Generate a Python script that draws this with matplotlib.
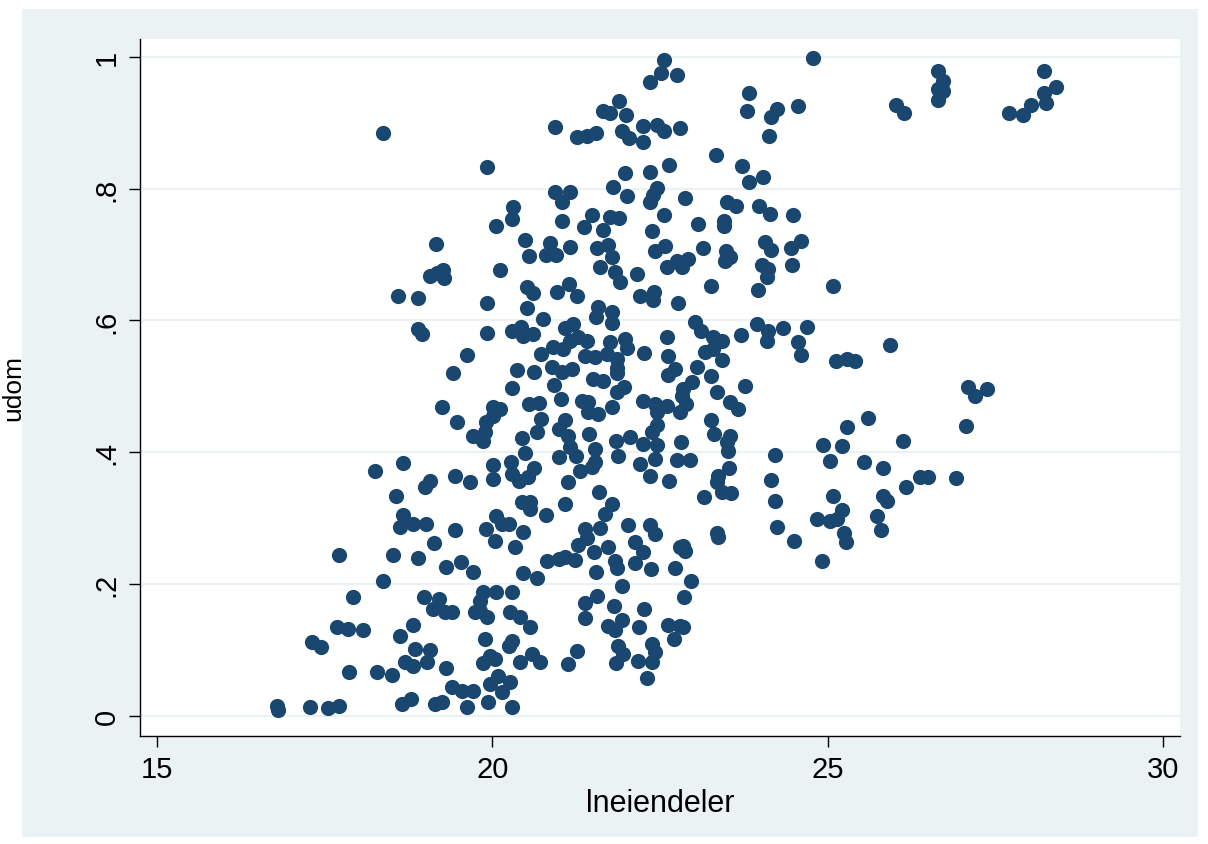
import numpy as np
import matplotlib.pyplot as plt
from matplotlib.patches import Rectangle

plt.rcParams['font.family'] = ['Liberation Sans', 'DejaVu Sans']

# scatter data: lneiendeler (x) and udom (y), same order in both lists
lneiendeler = [
    18.37, 19.16, 19.07, 19.18, 19.27, 19.28, 22.56, 22.51, 22.75, 22.35,
    21.89, 21.65, 21.75, 21.99, 20.94, 21.26, 21.41, 21.54, 21.93, 22.03,
    22.24, 22.24, 22.45, 22.56, 22.79, 19.92, 21.97, 22.35, 22.63, 21.80,
    22.00, 22.45, 22.39, 22.35, 22.87, 20.94, 21.15, 21.04, 20.31, 20.29,
    20.06, 21.04, 21.48, 21.36, 21.75, 21.89, 21.65, 22.56, 22.38, 20.49,
    20.55, 20.86, 20.80, 20.95, 21.15, 21.56, 21.72, 21.78, 21.60, 22.42,
    22.57, 22.60, 22.75, 20.12, 22.15, 21.83, 24.78, 23.82, 23.79, 24.24,
    24.15, 24.55, 24.12, 23.33, 23.72, 24.03, 23.82, 23.50, 23.63, 23.97,
    24.14, 24.48, 23.06, 23.45, 23.45, 24.06, 24.15, 24.45, 24.60, 23.14,
    23.48, 23.54, 23.46, 22.91, 22.82, 24.02, 24.11, 24.46, 26.02, 26.13,
    26.64, 26.71, 26.64, 26.71, 26.65, 27.70, 27.91, 28.03, 28.23, 28.23,
    28.25, 28.40, 18.59, 18.89, 18.89, 18.95, 19.62, 19.41, 19.25, 19.47,
    19.71, 18.25, 18.67, 18.56, 18.99, 19.07, 19.44, 19.66, 18.67, 18.62,
    18.82, 19.01, 19.44, 19.13, 17.71, 18.52, 18.89, 19.31, 19.53, 19.71,
    18.37, 17.92, 18.98, 19.20, 19.11, 19.29, 19.40, 19.74, 17.68, 17.85,
    18.07, 18.82, 18.62, 17.31, 17.44, 18.85, 19.07, 18.70, 18.82, 19.02,
    19.31, 17.86, 18.28, 18.50, 19.40, 19.55, 19.71, 16.79, 16.81, 17.28,
    17.55, 17.71, 18.65, 18.79, 19.14, 19.25, 19.62, 21.90, 20.51, 20.60,
    20.96, 21.14, 21.26, 22.20, 22.41, 22.39, 19.92, 20.51, 21.57, 21.78,
    21.54, 21.78, 22.76, 20.75, 20.29, 20.42, 20.45, 20.60, 19.92, 21.08,
    21.20, 21.27, 21.41, 21.15, 21.75, 21.97, 22.00, 22.60, 22.26, 20.72,
    20.90, 21.05, 21.38, 21.53, 21.71, 21.86, 20.89, 21.04, 21.19, 20.36,
    20.62, 21.50, 21.65, 21.86, 21.86, 22.62, 22.62, 22.72, 20.92, 20.29,
    21.86, 21.96, 22.84, 21.02, 20.54, 20.69, 21.33, 21.42, 21.78, 22.24,
    22.42, 22.60, 20.01, 20.12, 20.01, 21.42, 21.57, 22.80, 20.72, 22.45,
    21.08, 19.91, 20.99, 22.45, 19.89, 19.86, 20.66, 20.44, 21.12, 21.44,
    21.84, 22.05, 22.38, 22.24, 22.45, 22.81, 21.15, 21.53, 20.48, 21.00,
    21.24, 21.87, 22.42, 22.75, 20.01, 20.28, 20.62, 20.01, 20.29, 20.39,
    20.53, 21.30, 21.48, 21.53, 22.20, 22.35, 22.63, 21.12, 21.59, 20.44,
    20.56, 21.08, 21.78, 20.56, 20.80, 21.68, 20.05, 20.14, 20.25, 19.90,
    20.04, 20.45, 20.33, 21.38, 21.41, 21.27, 21.60, 22.02, 22.35, 22.42,
    22.12, 22.24, 22.12, 22.36, 22.79, 22.72, 21.72, 21.51, 21.83, 21.86,
    21.54, 20.81, 20.99, 21.08, 21.23, 20.45, 20.66, 21.93, 21.56, 21.38,
    21.38, 21.81, 22.26, 21.93, 21.72, 21.83, 22.18, 22.62, 22.79, 22.70,
    19.86, 20.05, 20.29, 19.81, 19.81, 19.92, 20.26, 20.41, 20.56, 19.89,
    20.29, 20.25, 19.96, 19.86, 20.04, 20.41, 20.59, 20.71, 21.26, 21.12,
    21.87, 21.95, 21.84, 22.17, 22.38, 22.42, 22.38, 22.30, 20.08, 20.26,
    19.96, 20.14, 19.93, 20.29, 23.26, 23.96, 24.09, 25.07, 23.02, 23.11,
    23.29, 23.42, 23.17, 23.29, 23.42, 23.70, 23.94, 24.11, 24.09, 24.33,
    24.69, 24.55, 24.60, 25.12, 25.28, 25.40, 25.92, 23.05, 23.26, 22.97,
    22.82, 22.89, 23.76, 23.35, 23.54, 23.66, 23.26, 23.30, 23.54, 23.49,
    23.51, 22.94, 24.22, 23.52, 23.36, 23.35, 23.42, 23.55, 24.15, 23.15,
    24.21, 25.60, 25.28, 24.93, 25.21, 25.04, 25.54, 25.83, 25.07, 25.83,
    25.88, 27.09, 27.37, 27.19, 27.06, 26.12, 26.37, 26.49, 26.91, 26.16,
    24.84, 25.03, 25.13, 25.21, 24.24, 24.49, 24.91, 25.24, 25.27, 25.73,
    25.80, 23.35, 23.36, 22.84, 22.87, 22.96, 22.85, 22.84,
]
udom = [
    0.885, 0.716, 0.667, 0.672, 0.676, 0.664, 0.995, 0.976, 0.973, 0.962,
    0.933, 0.918, 0.915, 0.912, 0.894, 0.879, 0.880, 0.885, 0.888, 0.877,
    0.895, 0.871, 0.897, 0.888, 0.892, 0.833, 0.824, 0.825, 0.836, 0.803,
    0.789, 0.801, 0.791, 0.780, 0.786, 0.795, 0.795, 0.780, 0.772, 0.754,
    0.744, 0.751, 0.760, 0.742, 0.757, 0.756, 0.737, 0.760, 0.736, 0.722,
    0.698, 0.718, 0.700, 0.700, 0.712, 0.710, 0.715, 0.697, 0.681, 0.706,
    0.713, 0.681, 0.690, 0.677, 0.671, 0.674, 0.998, 0.945, 0.918, 0.921,
    0.909, 0.926, 0.880, 0.851, 0.835, 0.818, 0.810, 0.780, 0.774, 0.774,
    0.762, 0.760, 0.747, 0.751, 0.743, 0.719, 0.707, 0.710, 0.721, 0.710,
    0.706, 0.697, 0.690, 0.693, 0.681, 0.684, 0.678, 0.684, 0.927, 0.915,
    0.979, 0.963, 0.951, 0.948, 0.935, 0.914, 0.912, 0.927, 0.979, 0.945,
    0.930, 0.954, 0.637, 0.634, 0.587, 0.580, 0.548, 0.521, 0.469, 0.446,
    0.425, 0.372, 0.384, 0.334, 0.347, 0.357, 0.364, 0.355, 0.305, 0.287,
    0.291, 0.291, 0.282, 0.263, 0.244, 0.244, 0.240, 0.226, 0.234, 0.219,
    0.205, 0.181, 0.181, 0.178, 0.162, 0.158, 0.158, 0.158, 0.135, 0.132,
    0.131, 0.138, 0.121, 0.112, 0.105, 0.102, 0.100, 0.082, 0.076, 0.082,
    0.073, 0.067, 0.067, 0.062, 0.044, 0.038, 0.038, 0.015, 0.009, 0.014,
    0.012, 0.015, 0.018, 0.026, 0.018, 0.021, 0.014, 0.659, 0.651, 0.642,
    0.643, 0.656, 0.637, 0.637, 0.643, 0.631, 0.627, 0.619, 0.621, 0.613,
    0.605, 0.596, 0.627, 0.602, 0.584, 0.590, 0.577, 0.580, 0.581, 0.589,
    0.595, 0.575, 0.569, 0.569, 0.568, 0.572, 0.558, 0.575, 0.551, 0.549,
    0.560, 0.557, 0.546, 0.545, 0.549, 0.542, 0.530, 0.522, 0.527, 0.525,
    0.522, 0.511, 0.508, 0.528, 0.520, 0.546, 0.517, 0.527, 0.502, 0.498,
    0.492, 0.499, 0.496, 0.481, 0.473, 0.475, 0.478, 0.476, 0.469, 0.478,
    0.473, 0.470, 0.469, 0.466, 0.455, 0.461, 0.458, 0.461, 0.451, 0.461,
    0.449, 0.446, 0.436, 0.442, 0.431, 0.417, 0.431, 0.422, 0.425, 0.428,
    0.417, 0.423, 0.431, 0.413, 0.411, 0.416, 0.408, 0.405, 0.399, 0.393,
    0.395, 0.395, 0.390, 0.388, 0.381, 0.385, 0.376, 0.360, 0.367, 0.357,
    0.363, 0.372, 0.378, 0.385, 0.382, 0.364, 0.357, 0.355, 0.340, 0.325,
    0.325, 0.322, 0.322, 0.314, 0.305, 0.307, 0.304, 0.291, 0.291, 0.284,
    0.266, 0.279, 0.257, 0.284, 0.270, 0.259, 0.285, 0.290, 0.290, 0.276,
    0.264, 0.249, 0.232, 0.223, 0.256, 0.224, 0.257, 0.249, 0.235, 0.224,
    0.218, 0.235, 0.238, 0.241, 0.237, 0.217, 0.209, 0.197, 0.182, 0.171,
    0.149, 0.167, 0.162, 0.146, 0.137, 0.131, 0.135, 0.138, 0.137, 0.117,
    0.188, 0.188, 0.188, 0.175, 0.159, 0.150, 0.158, 0.150, 0.135, 0.117,
    0.114, 0.106, 0.091, 0.080, 0.086, 0.082, 0.094, 0.082, 0.099, 0.079,
    0.106, 0.094, 0.080, 0.083, 0.109, 0.097, 0.082, 0.058, 0.061, 0.052,
    0.049, 0.036, 0.021, 0.014, 0.652, 0.647, 0.666, 0.652, 0.598, 0.584,
    0.575, 0.569, 0.552, 0.557, 0.540, 0.578, 0.595, 0.584, 0.569, 0.589,
    0.590, 0.568, 0.548, 0.539, 0.542, 0.539, 0.563, 0.530, 0.516, 0.507,
    0.486, 0.473, 0.501, 0.492, 0.476, 0.466, 0.449, 0.428, 0.425, 0.416,
    0.402, 0.388, 0.396, 0.376, 0.364, 0.355, 0.340, 0.338, 0.358, 0.332,
    0.326, 0.452, 0.438, 0.411, 0.410, 0.387, 0.385, 0.376, 0.334, 0.334,
    0.326, 0.499, 0.496, 0.486, 0.440, 0.417, 0.363, 0.363, 0.361, 0.348,
    0.299, 0.296, 0.299, 0.313, 0.287, 0.266, 0.235, 0.278, 0.264, 0.303,
    0.282, 0.278, 0.271, 0.258, 0.250, 0.205, 0.181, 0.135,
]

x_ticks = [15, 20, 25, 30]
y_ticks = [0, 0.2, 0.4, 0.6, 0.8, 1]
y_ticklabels = ['0', '.2', '.4', '.6', '.8', '1']

navy = '#1a476f'
grid_col = '#eaf2f3'

fig = plt.figure(figsize=(12.08, 8.45), dpi=100, facecolor='white')
# light outer graph region, kept behind the axes
fig.patches.append(Rectangle((22 / 1208, 7 / 845), 1176 / 1208, 828 / 845,
                             transform=fig.transFigure, facecolor=grid_col,
                             edgecolor='none', zorder=-10))

ax = fig.add_axes([140 / 1208, 108 / 845, 1040 / 1208, 697 / 845])
ax.set_zorder(1)
ax.set_facecolor('white')
ax.scatter(lneiendeler, udom, s=120, color=navy, linewidths=0, zorder=3)

ax.set_xlim(14.747, 30.25)
ax.set_ylim(-0.0303, 1.027)
ax.set_xticks(x_ticks)
ax.set_yticks(y_ticks)
ax.set_yticklabels(y_ticklabels, rotation=90, va='center')
ax.tick_params(axis='both', direction='out', length=8, width=1,
               color='black', labelsize=21, pad=6)
ax.grid(axis='y', color=grid_col, linewidth=1.5, zorder=1)
ax.set_axisbelow(True)
for side in ('top', 'right'):
    ax.spines[side].set_visible(False)
for side in ('left', 'bottom'):
    ax.spines[side].set_color('black')
    ax.spines[side].set_linewidth(1)

ax.set_xlabel('lneiendeler', fontsize=22, labelpad=3)
fig.text(1 / 1208, 0.541, 'udom', rotation=90, ha='left', va='center',
         fontsize=19, zorder=5)

fig.savefig('out.png', dpi=100, facecolor='white')
